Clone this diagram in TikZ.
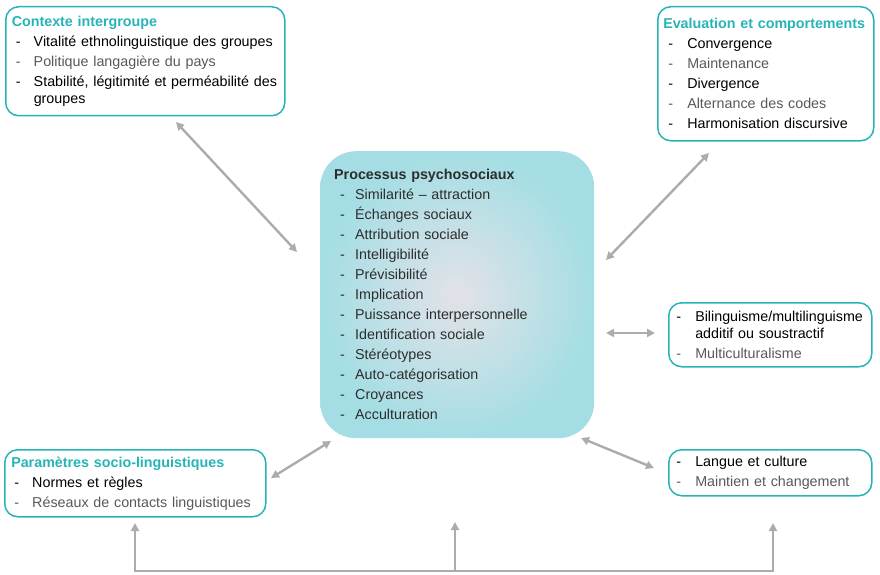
\documentclass[tikz,border=0pt]{standalone}
\usepackage{fontspec}
\setmainfont{Liberation Sans}
\usetikzlibrary{arrows.meta,calc}

\definecolor{tealbox}{RGB}{38,180,182}
\definecolor{darktxt}{RGB}{45,45,45}
\definecolor{greytxt}{RGB}{88,88,88}
\definecolor{arrowgrey}{RGB}{172,172,172}
\definecolor{procedge}{RGB}{164,222,228}
\definecolor{proccentre}{RGB}{226,226,232}

\newlength{\itmindent}
\newlength{\itmgap}
\setlength{\itmindent}{4pt}
\setlength{\itmgap}{18pt}
\newcommand{\boxhead}[2][tealbox]{\textbf{\color{#1}#2}}
\newcommand{\itm}[2]{{\color{#1}\hspace*{\itmindent}\makebox[\itmgap][l]{-}#2}}
\newcommand{\itmcont}[2]{{\color{#1}\hspace*{\dimexpr\itmindent+\itmgap\relax}#2}}

\begin{document}
\begin{tikzpicture}[x=1pt, y=-1pt,
    every node/.style={font=\fontsize{14.3}{20}\selectfont},
    infobox/.style={draw=tealbox, line width=1.5pt, rounded corners=13pt,
        anchor=north west, align=left, inner ysep=0pt},
    biarrow/.style={draw=arrowgrey, line width=2.4pt,
        {Triangle[length=8pt,width=8pt]}-{Triangle[length=8pt,width=8pt]}},
    uparrow/.style={draw=arrowgrey, line width=2.4pt, -{Triangle[length=8pt,width=8pt]}}]

\useasboundingbox (0,0) rectangle (880,575);

% Central box
\node[anchor=north west, shade, inner color=proccentre, outer color=procedge,
    rounded corners=36pt, minimum width=274pt, minimum height=287pt,
    inner xsep=13pt, text width=246pt, align=left,
    execute at begin node={\setlength{\itmindent}{6pt}\setlength{\itmgap}{15pt}}]
    (proc) at (320,151) {%
    \boxhead[darktxt]{Processus psychosociaux}\\
    \itm{darktxt}{Similarité – attraction}\\
    \itm{darktxt}{Échanges sociaux}\\
    \itm{darktxt}{Attribution sociale}\\
    \itm{darktxt}{Intelligibilité}\\
    \itm{darktxt}{Prévisibilité}\\
    \itm{darktxt}{Implication}\\
    \itm{darktxt}{Puissance interpersonnelle}\\
    \itm{darktxt}{Identification sociale}\\
    \itm{darktxt}{Stéréotypes}\\
    \itm{darktxt}{Auto-catégorisation}\\
    \itm{darktxt}{Croyances}\\
    \itm{darktxt}{Acculturation}};

% Outer boxes
\node[infobox, minimum width=279pt, minimum height=109pt,
    inner xsep=3.5pt, text width=272pt,
    execute at begin node={\setlength{\itmindent}{6.5pt}\setlength{\itmgap}{18pt}}]
    (ctx) at (5,6) {%
    \hspace*{2.5pt}\boxhead{Contexte intergroupe}\\
    \itm{black}{Vitalité ethnolinguistique des groupes}\\
    \itm{greytxt}{Politique langagière du pays}\\
    \itm{black}{Stabilité, légitimité et perméabilité des}\\[-3pt]
    \itmcont{black}{groupes}};

\node[infobox, minimum width=216pt, minimum height=134pt,
    inner xsep=5pt, text width=205pt,
    execute at begin node={\setlength{\itmindent}{5pt}\setlength{\itmgap}{19pt}}]
    (eval) at (657,6) {%
    \boxhead{Evaluation et comportements}\\
    \itm{black}{Convergence}\\
    \itm{greytxt}{Maintenance}\\
    \itm{black}{Divergence}\\
    \itm{greytxt}{Alternance des codes}\\
    \itm{black}{Harmonisation discursive}};

\node[infobox, minimum width=203pt, minimum height=64pt,
    inner xsep=7pt, text width=188pt,
    execute at begin node={\setlength{\itmindent}{0pt}\setlength{\itmgap}{19pt}}]
    (bil) at (668,302) {%
    \itm{black}{Bilinguisme/multilinguisme}\\[-3pt]
    \itmcont{black}{additif ou soustractif}\\
    \itm{greytxt}{Multiculturalisme}};

\node[infobox, minimum width=261pt, minimum height=67pt,
    inner xsep=6pt, text width=248pt,
    execute at begin node={\setlength{\itmindent}{3pt}\setlength{\itmgap}{18pt}}]
    (param) at (4,449) {%
    \boxhead{Paramètres socio-linguistiques}\\
    \itm{black}{Normes et règles}\\
    \itm{greytxt}{Réseaux de contacts linguistiques}};

\node[infobox, minimum width=203pt, minimum height=46pt,
    inner xsep=7pt, text width=188pt,
    execute at begin node={\setlength{\itmindent}{0pt}\setlength{\itmgap}{19pt}}]
    (lang) at (668,449) {%
    \itm{black}{Langue et culture}\\
    \itm{greytxt}{Maintien et changement}};

% Arrow ends
\coordinate (ctx-end) at (176,122);
\coordinate (proc-ctx) at (297,252);
\coordinate (eval-end) at (709,153);
\coordinate (proc-eval) at (606,260);
\coordinate (proc-bil) at (606,333);
\coordinate (bil-end) at (655,333);
\coordinate (param-end) at (271,478);
\coordinate (proc-param) at (331,441);
\coordinate (proc-lang) at (581,438);
\coordinate (lang-end) at (654,468);

% Two-way arrows
\draw[biarrow] (ctx-end) -- (proc-ctx);
\draw[biarrow] (eval-end) -- (proc-eval);
\draw[biarrow] (proc-bil) -- (bil-end);
\draw[biarrow] (param-end) -- (proc-param);
\draw[biarrow] (proc-lang) -- (lang-end);

% Bottom feedback line
\coordinate (low-left) at (135,571);
\coordinate (low-mid) at (455,571);
\coordinate (low-right) at (773,571);
\coordinate (up-left) at (135,523);
\coordinate (up-mid) at (455,522);
\coordinate (up-right) at (773,523);
\draw[biarrow, line join=miter] (up-left) -- (low-left) -- (low-right) -- (up-right);
\draw[uparrow] (low-mid) -- (up-mid);

\end{tikzpicture}
\end{document}
